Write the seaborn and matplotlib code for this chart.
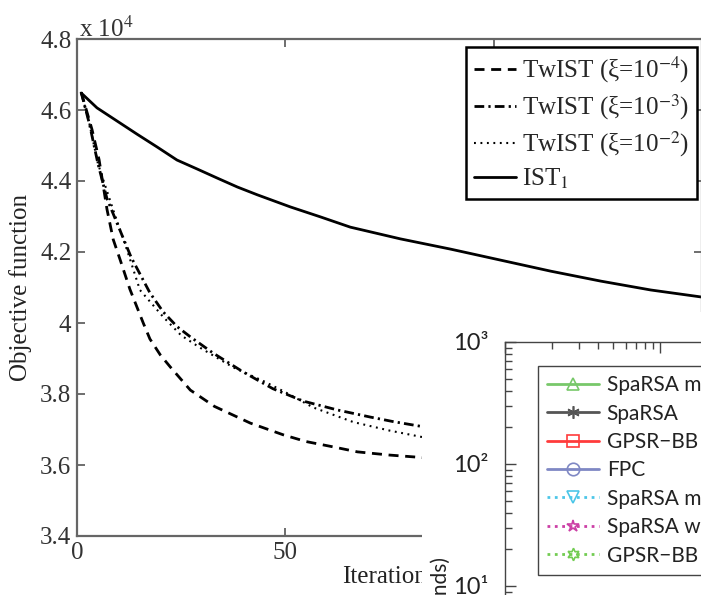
import matplotlib
matplotlib.use("Agg")
import matplotlib.pyplot as plt
import seaborn as sns
import pandas as pd
from matplotlib.lines import Line2D
from matplotlib.patches import Rectangle

# ---------------- data (objective in units of 1e4) ----------------
tw4_x = [1, 2, 3.6, 5.3, 7.2, 8.7, 10.3, 12.7, 15.9, 17.5, 20, 22.4, 27.2, 33, 41.6, 49.5, 55, 61.5, 67.3, 75, 84]
tw4_y = [4.65, 4.61, 4.545, 4.46, 4.32, 4.235, 4.18, 4.095, 4.0, 3.955, 3.91, 3.876, 3.811, 3.765, 3.718, 3.685, 3.666, 3.651, 3.637, 3.628, 3.62]

tw3_x = [1, 3, 5, 7.2, 9.3, 13, 17.5, 20.7, 24, 27.2, 32.7, 39.9, 47, 54.3, 62.5, 70.4, 76, 84]
tw3_y = [4.65, 4.56, 4.45, 4.35, 4.29, 4.185, 4.085, 4.031, 3.99, 3.961, 3.915, 3.862, 3.815, 3.78, 3.755, 3.735, 3.722, 3.706]

tw2_x = [1, 3, 5, 8.7, 12, 15.1, 20.7, 25, 29.6, 37.5, 45, 50, 56.7, 66.3, 75, 84]
tw2_y = [4.65, 4.56, 4.45, 4.318, 4.206, 4.093, 4.017, 3.965, 3.93, 3.875, 3.835, 3.805, 3.762, 3.721, 3.697, 3.676]

ist_x = [1, 4.8, 9.6, 14.4, 19.2, 24.0, 28.8, 33.7, 38.5, 43.3, 51.2, 58.4, 65.6, 77.6,
         89.7, 101.7, 113.7, 125.7, 137.7, 150]
ist_y = [4.648, 4.606, 4.569, 4.532, 4.496, 4.459, 4.434, 4.408, 4.383, 4.361, 4.327, 4.299,
         4.270, 4.237, 4.208, 4.177, 4.146, 4.118, 4.093, 4.073]

main_labels = ["TwIST (\u03be=10$^{-4}$)", "TwIST (\u03be=10$^{-3}$)",
               "TwIST (\u03be=10$^{-2}$)", r"IST$_1$"]
y_ticks = [3.4, 3.6, 3.8, 4.0, 4.2, 4.4, 4.6, 4.8]
y_ticklabels = ["3.4", "3.6", "3.8", "4", "4.2", "4.4", "4.6", "4.8"]
x_ticks = [0, 50, 100, 150]

inset_labels = ["SpaRSA monotone", "SpaRSA", "GPSR\u2212BB", "FPC",
                "SpaRSA monotone w/ continuation", "SpaRSA w/ continuation",
                "GPSR\u2212BB w/ continuation"]
inset_colors = ["#78c86a", "#555555", "#ff3b3b", "#7f88c4", "#4cc6e8", "#cc3fa6", "#72cc52"]
inset_styles = ["-", "-", "-", "-", ":", ":", ":"]
inset_markers = ["^", (6, 2, 0), "s", "o", "v", "*", (6, 1, 0)]
inset_yticks = [1, 10, 100, 1000]
inset_yticklabels = ["10\u2070", "10\u00b9", "10\u00b2", "10\u00b3"]

# ---------------- style ----------------
sns.set_theme(style="ticks")
plt.rcParams["font.family"] = ["Liberation Serif", "DejaVu Serif"]
plt.rcParams["mathtext.fontset"] = "stix"

W, H = 701, 595
fig = plt.figure(figsize=(W / 100, H / 100), dpi=100)
fig.patch.set_facecolor("white")

def fx(px):
    return px / W

def fy(py):
    return 1 - py / H

ax = fig.add_axes([fx(77), fy(536), fx(702) - fx(77), fy(39) - fy(536)])

series = [
    (tw4_x, tw4_y, main_labels[0], dict(ls=(0, (3.6, 2.4)), lw=2.0)),
    (tw3_x, tw3_y, main_labels[1], dict(ls=(0, (3.5, 1.5, 0.8, 1.5)), lw=2.0)),
    (tw2_x, tw2_y, main_labels[2], dict(ls=(0, (0.9, 2.2)), lw=1.5)),
    (ist_x, ist_y, main_labels[3], dict(ls="-", lw=2.0)),
]
for xs, ys, lab, kw in series:
    df = pd.DataFrame({"x": xs, "y": ys})
    sns.lineplot(data=df, x="x", y="y", ax=ax, color="black", label=lab, **kw)

ax.set_xlim(0, 150)
ax.set_ylim(3.4, 4.8)
ax.set_yticks(y_ticks)
ax.set_yticklabels(y_ticklabels)
ax.set_xticks(x_ticks)
ax.set_xticklabels(["0", "50", "100", "150"])
ax.tick_params(axis="both", which="both", direction="in", length=6, width=1.2,
               top=True, right=True, labelsize=18, pad=4, colors="#555555",
               labelcolor="#333333")
for s in ax.spines.values():
    s.set_color("#666666")
    s.set_linewidth(1.6)
ax.set_xlabel("Iterations", fontsize=18, color="#222222", labelpad=2)
ax.set_ylabel("Objective function", fontsize=18, color="#222222", labelpad=6)
fig.text(fx(79), fy(37), r"x 10$^4$", fontsize=18, color="#333333", va="baseline")

leg = ax.legend(loc="upper right", bbox_to_anchor=(fx(697), fy(47)),
                bbox_transform=fig.transFigure, borderaxespad=0, fontsize=18,
                handlelength=1.7, handletextpad=0.25, labelspacing=0.3,
                borderpad=0.3, fancybox=False, framealpha=1)
leg.get_frame().set_edgecolor("black")
leg.get_frame().set_linewidth(1.8)

# ---------------- overlapping inset chart ----------------
fig.add_artist(Rectangle((fx(422), 0), 1 - fx(422), fy(312), transform=fig.transFigure,
                         facecolor="white", edgecolor="none", zorder=5))

ax2 = fig.add_axes([fx(505), fy(708), fx(815) - fx(505), fy(342) - fy(708)])
ax2.set_zorder(6)
ax2.set_xscale("log")
ax2.set_yscale("log")
ax2.set_xlim(1, 100)
ax2.set_ylim(1, 1000)
ax2.set_yticks(inset_yticks)
ax2.set_yticklabels(inset_yticklabels)
ax2.set_facecolor("white")
for s in ax2.spines.values():
    s.set_color("#444444")
    s.set_linewidth(1.0)
ax2.tick_params(axis="both", which="major", direction="in", length=8, width=1,
                top=True, right=True, colors="#444444", labelsize=17,
                labelcolor="#222222", pad=12)
ax2.tick_params(axis="both", which="minor", direction="in", length=5, width=1,
                top=True, right=True, colors="#444444")
for lab in ax2.get_yticklabels() + ax2.get_xticklabels():
    lab.set_fontfamily(["Lato", "DejaVu Sans"])
fig.text(fx(441), fy(557), "CPU time (seconds)", rotation=90, ha="center", va="top",
         fontsize=15, color="#222222", family=["Lato", "DejaVu Sans"], zorder=7)

handles = [Line2D([], [], color=c, ls=ls, lw=2.0, marker=m, markersize=9,
                  markerfacecolor="none", markeredgecolor=c, markeredgewidth=1.2)
           for c, ls, m in zip(inset_colors, inset_styles, inset_markers)]
leg2 = ax2.legend(handles, inset_labels, loc="upper left",
                  bbox_to_anchor=(fx(538), fy(366)), bbox_transform=fig.transFigure,
                  borderaxespad=0, prop={"family": ["Lato", "DejaVu Sans"], "size": 15},
                  handlelength=2.5, handletextpad=0.35, labelspacing=0.4,
                  borderpad=0.45, fancybox=False, framealpha=1, numpoints=1)
leg2.get_frame().set_edgecolor("#444444")
leg2.get_frame().set_linewidth(1.0)
for t in leg2.get_texts():
    t.set_color("#222222")

fig.savefig("out.png", dpi=100)
